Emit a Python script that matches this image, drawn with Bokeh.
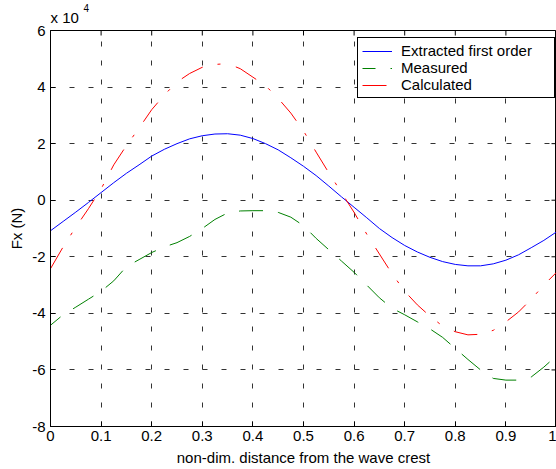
import math
from bokeh.plotting import figure
from bokeh.models import FixedTicker, Legend, LegendItem, Range1d, Title
from bokeh.embed import file_html
from bokeh.resources import INLINE

# ---- data (force in units of 10^4 N) ----
x_ticks = [0, 0.1, 0.2, 0.3, 0.4, 0.5, 0.6, 0.7, 0.8, 0.9, 1]
x_tick_labels = ["0", "0.1", "0.2", "0.3", "0.4", "0.5", "0.6", "0.7", "0.8", "0.9", "1"]
y_ticks = [-8, -6, -4, -2, 0, 2, 4, 6]
y_tick_labels = ["-8", "-6", "-4", "-2", "0", "2", "4", "6"]

distance = [0, 0.025, 0.05, 0.075, 0.1, 0.125, 0.15, 0.175, 0.2, 0.225,
            0.25, 0.275, 0.3, 0.325, 0.35, 0.375, 0.4, 0.425, 0.45, 0.475,
            0.5, 0.525, 0.55, 0.575, 0.6, 0.625, 0.65, 0.675, 0.7, 0.725,
            0.75, 0.775, 0.8, 0.825, 0.85, 0.875, 0.9, 0.925, 0.95, 0.975, 1.0]

extracted_first_order = [-1.08, -0.75, -0.42, -0.08, 0.27, 0.62, 0.95, 1.25, 1.56, 1.8,
                         2.0, 2.17, 2.28, 2.34, 2.35, 2.3, 2.18, 2.0, 1.78, 1.5,
                         1.2, 0.87, 0.5, 0.12, -0.25, -0.62, -1.0, -1.32, -1.6, -1.83,
                         -2.02, -2.17, -2.27, -2.32, -2.32, -2.25, -2.12, -1.93, -1.68, -1.42, -1.12]

measured = [-4.42, -4.05, -3.78, -3.5, -3.22, -2.85, -2.35, -2.1, -1.85, -1.65,
            -1.5, -1.28, -1.0, -0.68, -0.45, -0.38, -0.37, -0.37, -0.43, -0.6,
            -0.9, -1.35, -1.75, -2.15, -2.55, -3.0, -3.45, -3.82, -4.05, -4.3,
            -4.55, -4.85, -5.24, -5.63, -6.0, -6.3, -6.36, -6.36, -6.25, -5.9, -5.5]

calculated = [-2.42, -1.65, -0.95, -0.3, 0.4, 1.25, 1.93, 2.55, 3.2, 3.72,
              4.18, 4.48, 4.7, 4.8, 4.83, 4.65, 4.35, 4.05, 3.6, 3.08,
              2.45, 1.7, 0.97, 0.27, -0.43, -1.2, -1.9, -2.6, -3.22, -3.7,
              -4.1, -4.45, -4.65, -4.76, -4.74, -4.6, -4.3, -3.95, -3.5, -3.0, -2.55]

scale_text = "x 10"
scale_exponent = "4"

FONT = "Liberation Sans"

p = figure(width=556, height=469, x_range=Range1d(0, 1), y_range=Range1d(-8, 6),
           output_backend="svg", toolbar_location=None,
           min_border_left=50, min_border_top=30, min_border_right=0, min_border_bottom=43,
           background_fill_color="white", border_fill_color="white")
p.outline_line_color = "black"
p.outline_line_alpha = 1.0

# scale factor "x 10^4": base as a title next to the frame, exponent as the outer title
p.title.text = scale_exponent
p.title.align = "left"
p.title.text_font = FONT
p.title.text_font_size = "10px"
p.title.text_font_style = "normal"
p.title.text_color = "black"
p.title.standoff = -19
p.title.offset = 33
p.add_layout(Title(text=scale_text, align="left", text_font=FONT, text_font_size="15px",
                   text_font_style="normal", text_color="black", offset=0, standoff=9), "above")

xt = FixedTicker(ticks=x_ticks)
yt = FixedTicker(ticks=y_ticks)

for ax in (p.xaxis[0], p.yaxis[0]):
    ax.major_tick_in = 5
    ax.major_tick_out = 0
    ax.minor_tick_line_color = None
    ax.axis_line_color = "black"
    ax.major_tick_line_color = "black"
    ax.major_label_text_font = FONT
    ax.major_label_text_font_size = "15px"
    ax.major_label_text_color = "black"
    ax.axis_label_text_font = FONT
    ax.axis_label_text_font_size = "15px"
    ax.axis_label_text_font_style = "normal"
    ax.axis_label_text_color = "black"

p.xaxis[0].ticker = xt
p.yaxis[0].ticker = yt
p.xaxis[0].major_label_overrides = {t: l for t, l in zip(x_ticks, x_tick_labels)}
p.yaxis[0].major_label_overrides = {t: l for t, l in zip(y_ticks, y_tick_labels)}
p.xaxis[0].major_label_standoff = 4
p.yaxis[0].major_label_standoff = 5
p.xaxis[0].axis_label = "non-dim. distance from the wave crest"
p.yaxis[0].axis_label = "Fx (N)"
p.xaxis[0].axis_label_standoff = 5
p.yaxis[0].axis_label_standoff = 4

for g in (p.xgrid[0], p.ygrid[0]):
    g.grid_line_color = "#333333"
    g.grid_line_dash = "5 14"
    g.grid_line_width = 1
p.xgrid[0].ticker = xt
p.ygrid[0].ticker = yt

# inward ticks on the top and right edges of the box (half of each mark is clipped)
p.scatter(x_ticks, [y_ticks[-1]] * len(x_ticks), marker="dash", size=10,
          angle=math.pi / 2, line_color="black", line_width=1)
p.scatter([x_ticks[-1]] * len(y_ticks), y_ticks, marker="dash", size=10,
          angle=0, line_color="black", line_width=1)

r1 = p.line(distance, extracted_first_order, line_color="#0000ff", line_width=1)
r2 = p.line(distance, measured, line_color="#008000", line_width=1,
            line_dash="24 15", line_dash_offset=11)
r3 = p.line(distance, calculated, line_color="#ff0000", line_width=1,
            line_dash="24 15 3 16")

legend = Legend(items=[LegendItem(label="Extracted first order", renderers=[r1]),
                       LegendItem(label="Measured", renderers=[r2]),
                       LegendItem(label="Calculated", renderers=[r3])],
                location=(307, 328))
legend.border_line_color = "black"
legend.border_line_width = 1
legend.border_line_alpha = 1
legend.background_fill_color = "white"
legend.background_fill_alpha = 1
legend.label_text_font = FONT
legend.label_text_font_size = "15px"
legend.label_text_color = "black"
legend.padding = 4
legend.spacing = 0
legend.margin = 0
legend.glyph_width = 30
legend.glyph_height = 16
legend.label_height = 16
legend.label_standoff = 9
legend.label_width = 149
p.add_layout(legend)

open("out.html", "w").write(file_html(p, INLINE))
